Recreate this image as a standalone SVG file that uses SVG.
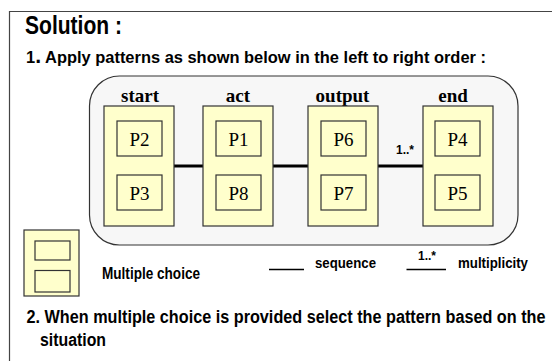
<svg xmlns="http://www.w3.org/2000/svg" width="552" height="361" viewBox="0 0 552 361">
<style>
.sans{font-family:"Liberation Sans",Arial,sans-serif;font-weight:bold;fill:#000}
.hdr{font-family:"Liberation Serif","Times New Roman",serif;font-weight:bold;font-size:19px;text-anchor:middle;fill:#000}
.pl{font-family:"Liberation Serif","Times New Roman",serif;font-size:19px;text-anchor:middle;fill:#000}
.grp{fill:#FFFFCC;stroke:#333;stroke-width:1.2}
.pat{fill:#FFFFCC;stroke:#333;stroke-width:1.2}
.conn{stroke:#000;stroke-width:3}
</style>
<rect x="0" y="0" width="552" height="361" fill="#fff"/>
<g id="frame" fill="none" stroke="#444" stroke-width="1.2">
<line x1="9" y1="11.5" x2="552" y2="11.5"/>
<line x1="9.5" y1="11" x2="9.5" y2="361"/>
</g>
<text class="sans" x="25" y="34" font-size="26.5" textLength="97" lengthAdjust="spacingAndGlyphs">Solution :</text>
<text class="sans" x="26" y="63" font-size="17" textLength="460" lengthAdjust="spacingAndGlyphs">1<tspan font-size="22">.</tspan> Apply patterns as shown below in the left to right order :</text>
<rect id="panel" x="89.5" y="76" width="428.5" height="169" rx="30" ry="30" fill="#F7F7F7" stroke="#333" stroke-width="1.2"/>
<g id="connectors">
<line class="conn" x1="174" y1="166" x2="203" y2="166"/>
<line class="conn" x1="273" y1="166" x2="308" y2="166"/>
<line class="conn" x1="378" y1="166" x2="423" y2="166"/>
<text class="sans" x="405" y="153.5" font-size="12" text-anchor="middle">1..*</text>
</g>
<g id="start">
<text class="hdr" x="140" y="102">start</text>
<rect class="grp" x="104" y="106" width="70" height="120"/>
<rect class="pat" x="117" y="121" width="45" height="35"/>
<text class="pl" x="139.5" y="146">P2</text>
<rect class="pat" x="117" y="175" width="45" height="35"/>
<text class="pl" x="139.5" y="200">P3</text>
</g>
<g id="act">
<text class="hdr" x="238" y="102">act</text>
<rect class="grp" x="203" y="106" width="70" height="120"/>
<rect class="pat" x="216" y="121" width="45" height="35"/>
<text class="pl" x="238.5" y="146">P1</text>
<rect class="pat" x="216" y="175" width="45" height="35"/>
<text class="pl" x="238.5" y="200">P8</text>
</g>
<g id="output">
<text class="hdr" x="342.5" y="102">output</text>
<rect class="grp" x="308" y="106" width="70" height="120"/>
<rect class="pat" x="321" y="121" width="45" height="35"/>
<text class="pl" x="343.5" y="146">P6</text>
<rect class="pat" x="321" y="175" width="45" height="35"/>
<text class="pl" x="343.5" y="200">P7</text>
</g>
<g id="end">
<text class="hdr" x="453" y="102">end</text>
<rect class="grp" x="423" y="106" width="70" height="120"/>
<rect class="pat" x="435" y="121" width="45" height="35"/>
<text class="pl" x="457.5" y="146">P4</text>
<rect class="pat" x="435" y="175" width="45" height="35"/>
<text class="pl" x="457.5" y="200">P5</text>
</g>
<g id="legend">
<rect class="grp" x="24" y="230" width="55" height="66"/>
<rect class="pat" x="35" y="241" width="35" height="19"/>
<rect class="pat" x="35" y="270.5" width="35" height="21.5"/>
<text class="sans" x="102" y="279" font-size="16" textLength="98" lengthAdjust="spacingAndGlyphs">Multiple choice</text>
<line x1="269" y1="269.5" x2="304" y2="269.5" stroke="#000" stroke-width="1.5"/>
<text class="sans" x="315" y="268" font-size="15" textLength="61" lengthAdjust="spacingAndGlyphs">sequence</text>
<line x1="406.5" y1="269.5" x2="446" y2="269.5" stroke="#000" stroke-width="1.5"/>
<text class="sans" x="427" y="260" font-size="12" text-anchor="middle">1..*</text>
<text class="sans" x="458" y="268" font-size="15" textLength="70" lengthAdjust="spacingAndGlyphs">multiplicity</text>
</g>
<text class="sans" x="26.5" y="323" font-size="18" textLength="519" lengthAdjust="spacingAndGlyphs">2. When multiple choice is provided select the pattern based on the</text>
<text class="sans" x="40" y="346" font-size="18" textLength="66" lengthAdjust="spacingAndGlyphs">situation</text>
</svg>
